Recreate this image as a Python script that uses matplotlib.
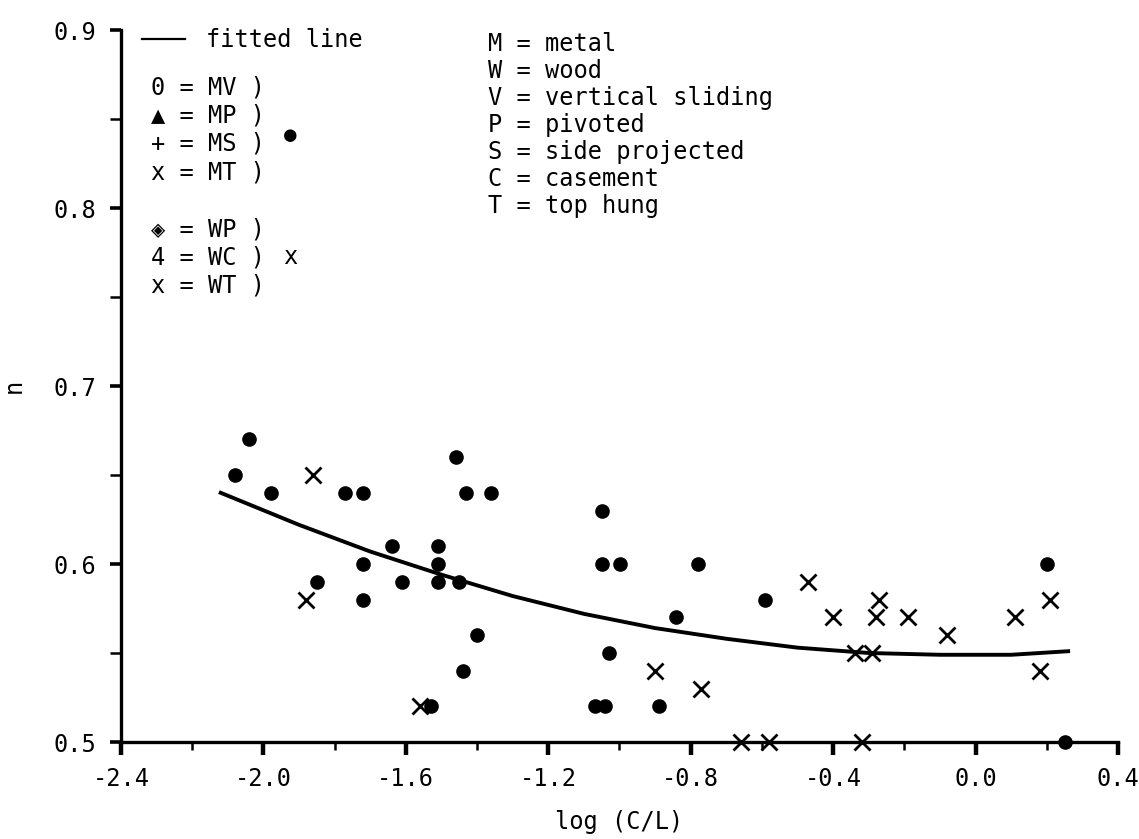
import matplotlib
matplotlib.use("Agg")
import matplotlib.pyplot as plt
from matplotlib.ticker import MultipleLocator, FixedLocator
from matplotlib.lines import Line2D

# metal windows (filled dots)
metal_x = [-2.08, -2.04, -1.98, -1.85, -1.77, -1.72, -1.72, -1.72, -1.64, -1.61,
           -1.51, -1.51, -1.51, -1.53, -1.46, -1.45, -1.43, -1.44, -1.40, -1.36,
           -1.07, -1.04, -1.05, -1.05, -1.03, -1.00, -0.89, -0.84, -0.78, -0.59,
           0.20, 0.25]
metal_n = [0.65, 0.67, 0.64, 0.59, 0.64, 0.64, 0.60, 0.58, 0.61, 0.59,
           0.61, 0.60, 0.59, 0.52, 0.66, 0.59, 0.64, 0.54, 0.56, 0.64,
           0.52, 0.52, 0.63, 0.60, 0.55, 0.60, 0.52, 0.57, 0.60, 0.58,
           0.60, 0.50]

# wood windows (crosses)
wood_x = [-1.86, -1.88, -1.56, -0.90, -0.77, -0.66, -0.58, -0.47, -0.40, -0.34,
          -0.32, -0.29, -0.28, -0.27, -0.19, -0.08, 0.11, 0.18, 0.21]
wood_n = [0.65, 0.58, 0.52, 0.54, 0.53, 0.50, 0.50, 0.59, 0.57, 0.55,
          0.50, 0.55, 0.57, 0.58, 0.57, 0.56, 0.57, 0.54, 0.58]

# fitted line
fit_x = [-2.12, -1.9, -1.7, -1.5, -1.3, -1.1, -0.9, -0.7, -0.5, -0.3, -0.1, 0.1, 0.26]
fit_n = [0.640, 0.622, 0.607, 0.594, 0.582, 0.572, 0.564, 0.558, 0.553, 0.550, 0.549, 0.549, 0.551]

xtick_vals = [-2.4, -2.0, -1.6, -1.2, -0.8, -0.4, 0.0, 0.4]
xtick_labels = ["-2.4", "-2.0", "-1.6", "-1.2", "-0.8", "-0.4", "0.0", "0.4"]
ytick_vals = [0.5, 0.6, 0.7, 0.8, 0.9]
ytick_labels = ["0.5", "0.6", "0.7", "0.8", "0.9"]

metal_syms = ["0", "▲", "+", "x"]
metal_codes = ["MV", "MP", "MS", "MT"]
wood_syms = ["◈", "4", "x"]
wood_codes = ["WP", "WC", "WT"]
key_lines = ["M = metal", "W = wood", "V = vertical sliding", "P = pivoted",
             "S = side projected", "C = casement", "T = top hung"]

FONT = ["DejaVu Sans Mono", "DejaVu Sans"]
FS = 17
plt.rcParams["font.family"] = FONT
plt.rcParams["axes.unicode_minus"] = False

W, H = 1139, 839
fig = plt.figure(figsize=(W / 100, H / 100), dpi=100)
ax = fig.add_axes([121 / W, 1 - 742 / H, (1118 - 121) / W, (742 - 30) / H])

ax.plot(fit_x, fit_n, color="black", lw=2.8, zorder=3)
ax.plot(metal_x, metal_n, "o", color="black", ms=9.5, clip_on=False, zorder=5)
ax.plot(wood_x, wood_n, "x", color="black", ms=11, mew=2.0, clip_on=False, zorder=5)

ax.set_xlim(-2.4, 0.4)
ax.set_ylim(0.5, 0.9)
ax.xaxis.set_major_locator(FixedLocator(xtick_vals))
ax.set_xticklabels(xtick_labels)
ax.xaxis.set_minor_locator(MultipleLocator(0.2))
ax.yaxis.set_major_locator(FixedLocator(ytick_vals))
ax.set_yticklabels(ytick_labels)
ax.yaxis.set_minor_locator(MultipleLocator(0.05))

for s in ["top", "right"]:
    ax.spines[s].set_visible(False)
for s in ["left", "bottom"]:
    ax.spines[s].set_linewidth(2.4)

ax.tick_params(axis="x", which="major", direction="out", length=9, width=3.2, pad=9, labelsize=FS)
ax.tick_params(axis="x", which="minor", direction="out", length=6, width=1.8)
ax.tick_params(axis="y", which="major", direction="out", length=8, width=2.6, pad=10, labelsize=FS)
ax.tick_params(axis="y", which="minor", direction="out", length=8, width=1.8)

ax.set_xlabel("log (C/L)", fontsize=FS, labelpad=14)
ax.set_ylabel("n", fontsize=FS, labelpad=20)

# legend for the fitted line
leg = ax.legend(handles=[Line2D([], [], color="black", lw=1.6)], labels=["fitted line"],
                loc="upper left", bbox_to_anchor=(142 / W, 1 - 28 / H),
                bbox_transform=fig.transFigure, frameon=False, fontsize=FS,
                handlelength=1.8, handletextpad=0.9, borderpad=0, borderaxespad=0)


def px_text(px, py, s, **kw):
    fig.text(px / W, 1 - py / H, s, fontsize=FS, va="center", ha="left", **kw)


for i, (s, c) in enumerate(zip(metal_syms, metal_codes)):
    px_text(151, 87 + 28.5 * i, f"{s} = {c} )")
for i, (s, c) in enumerate(zip(wood_syms, wood_codes)):
    px_text(151, 229 + 28.5 * i, f"{s} = {c} )")
fig.text(290 / W, 1 - 135 / H, "●", fontsize=FS - 2, va="center", ha="center")
fig.text(290 / W, 1 - 257 / H, "x", fontsize=FS, va="center", ha="center")

for i, line in enumerate(key_lines):
    px_text(488, 44 + 27 * i, line)

fig.savefig("out.png", dpi=100)
